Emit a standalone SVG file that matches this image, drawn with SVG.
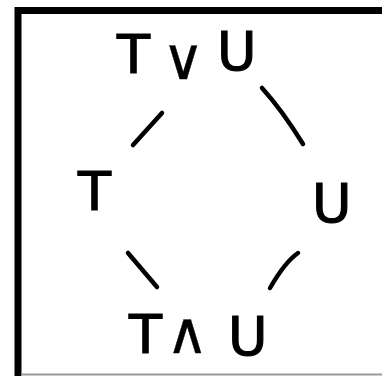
<svg xmlns="http://www.w3.org/2000/svg" width="382" height="376" viewBox="0 0 382 376">
<style>
.lbl{font-family:"DejaVu Sans",sans-serif;font-size:54px;fill:#000;stroke:#000;stroke-width:1.2}
.op{font-size:58px;stroke-width:0.4}
.edge{fill:none;stroke:#000;stroke-width:4.5;stroke-linecap:round}
</style>
<rect width="382" height="376" fill="#fff"/>
<g id="frame">
<path d="M18 376V10.5H382" fill="none" stroke="#000" stroke-width="7"/>
<path d="M21 374.5H382" stroke="#999" stroke-width="2"/>
</g>
<g id="node-join"><text class="lbl" y="73"><tspan x="117">T</tspan><tspan class="op" x="162" y="79">∨</tspan><tspan x="217" y="70">U</tspan></text></g>
<g id="node-T"><text class="lbl" x="78" y="210">T</text></g>
<g id="node-U"><text class="lbl" x="312" y="222">U</text></g>
<g id="node-meet"><text class="lbl" y="353"><tspan x="129">T</tspan><tspan class="op" x="166" y="353">∧</tspan><tspan x="228" y="355">U</tspan></text></g>
<g id="connectors">
<path class="edge" d="M162 113L133 145"/>
<path class="edge" d="M262 88Q282 110 303 144"/>
<path class="edge" d="M128 253L157 287"/>
<path class="edge" d="M298 253Q285 262 270 288"/>
</g>
</svg>
